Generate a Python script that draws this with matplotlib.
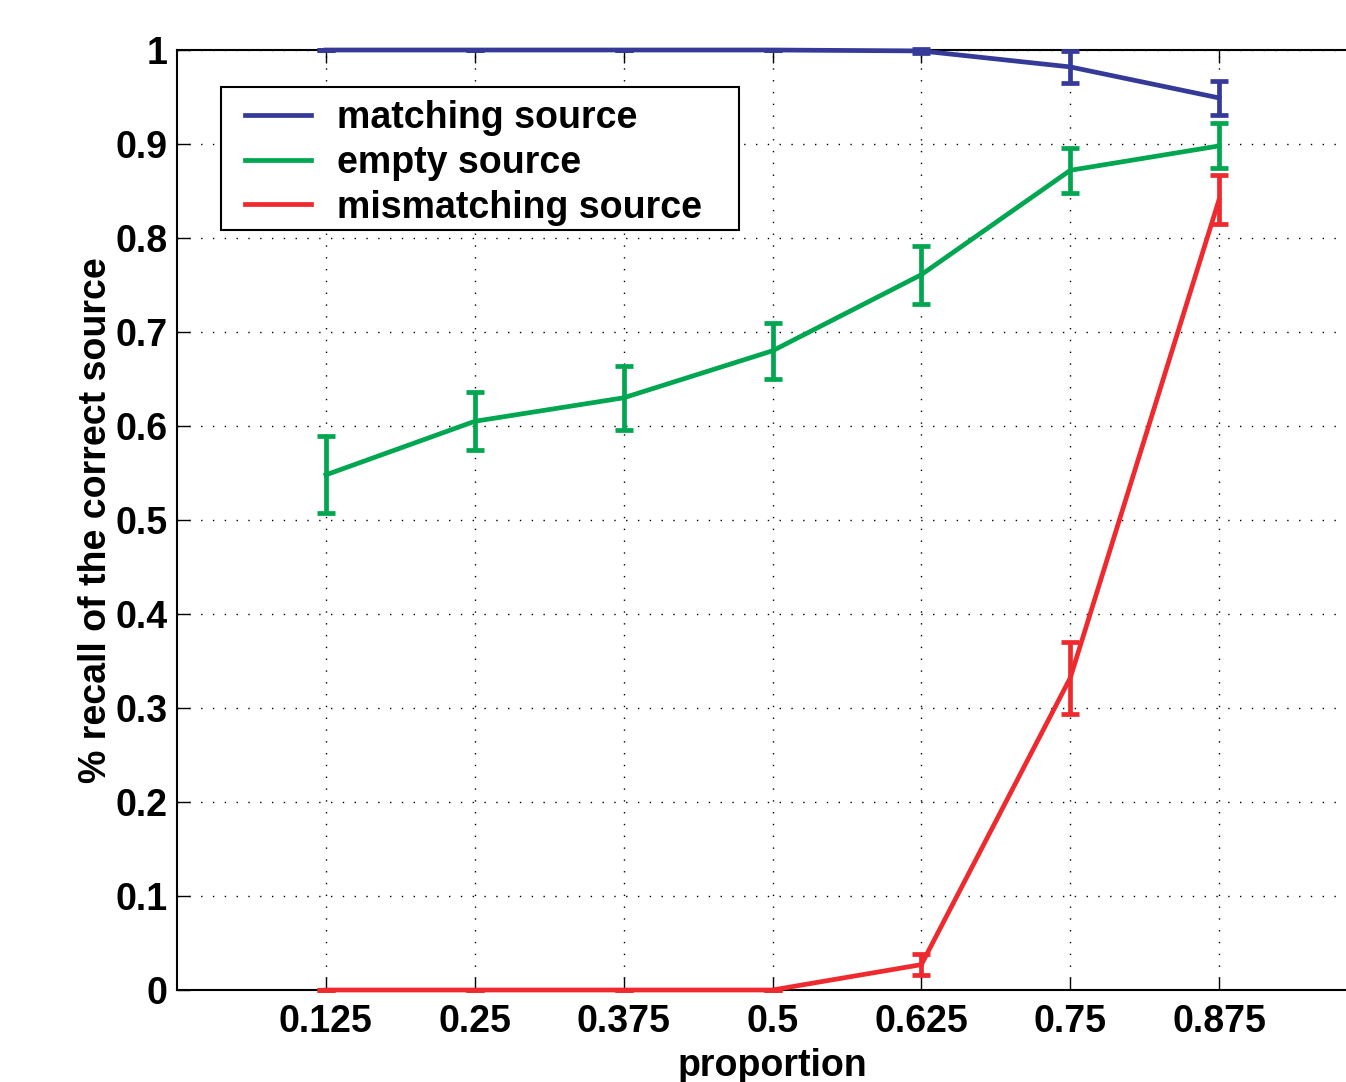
import matplotlib
matplotlib.use("Agg")
import matplotlib.pyplot as plt
from matplotlib.lines import Line2D
from matplotlib.patches import Rectangle
import numpy as np

proportion = [0.125, 0.25, 0.375, 0.5, 0.625, 0.75, 0.875]
matching = [1.0, 1.0, 1.0, 1.0, 0.999, 0.982, 0.949]
matching_err = [0.0, 0.0, 0.0, 0.0, 0.002, 0.017, 0.018]
empty = [0.548, 0.605, 0.630, 0.680, 0.761, 0.872, 0.898]
empty_err = [0.041, 0.031, 0.034, 0.030, 0.031, 0.024, 0.024]
mismatching = [0.0, 0.0, 0.0, 0.0, 0.027, 0.332, 0.841]
mismatching_err = [0.0, 0.0, 0.0, 0.0, 0.011, 0.038, 0.026]
xticks = [0.125, 0.25, 0.375, 0.5, 0.625, 0.75, 0.875]
xticklabels = ["0.125", "0.25", "0.375", "0.5", "0.625", "0.75", "0.875"]
yticks = [0, 0.1, 0.2, 0.3, 0.4, 0.5, 0.6, 0.7, 0.8, 0.9, 1]
yticklabels = ["0", "0.1", "0.2", "0.3", "0.4", "0.5", "0.6", "0.7", "0.8", "0.9", "1"]
series_names = ["matching source", "empty source", "mismatching source"]

plt.rcParams['font.family'] = ['Liberation Sans', 'DejaVu Sans']
plt.rcParams['font.weight'] = 'bold'

W, H = 1346, 1082
fig = plt.figure(figsize=(W / 100, H / 100), dpi=100)
ax = fig.add_axes([177 / W, (H - 990) / H, (1368 - 177) / W, 940 / H])

cols = ["#353a98", "#00a650", "#ee2a2f"]
kw = dict(lw=3.4, elinewidth=3.4, capsize=6.5, capthick=3.4, clip_on=False, zorder=3)
ax.errorbar(proportion, matching, yerr=matching_err, color=cols[0], **kw)
ax.errorbar(proportion, empty, yerr=empty_err, color=cols[1], **kw)
ax.errorbar(proportion, mismatching, yerr=mismatching_err, color=cols[2], **kw)

ax.set_xlim(0, 1)
ax.set_ylim(0, 1)
ax.set_xticks(xticks)
ax.set_xticklabels(xticklabels)
ax.set_yticks(yticks)
ax.set_yticklabels(yticklabels)
ax.tick_params(direction='in', length=9.4, width=1, labelsize=27, pad=7, top=True, right=False)
ax.tick_params(axis='x', pad=10)
for lab in ax.get_xticklabels() + ax.get_yticklabels():
    lab.set_fontweight('bold')
ax.grid(True, color='black', linestyle=(0, (1, 7.5)), linewidth=1)
for s in ax.spines.values():
    s.set_linewidth(1.5)
ax.spines['right'].set_visible(False)

ax.set_xlabel("proportion", fontsize=27, fontweight='bold', labelpad=6)
ax.set_ylabel("% recall of the correct source", fontsize=27, fontweight='bold', labelpad=0.5)

# legend frame (MATLAB-style box with extra right padding)
ax.add_patch(Rectangle((0.0369, 0.8085), 0.4719 - 0.0369, 0.9606 - 0.8085,
                       transform=ax.transAxes, facecolor='white', edgecolor='black',
                       lw=1.5, zorder=4))
handles = [Line2D([], [], color=c, lw=3.4) for c in cols]
leg = ax.legend(handles, series_names, loc='upper left', bbox_to_anchor=(0.0571, 0.9465), fontsize=27,
                frameon=False, handlelength=1.75,
                borderpad=0.0, labelspacing=0.23, handletextpad=0.7, borderaxespad=0)
leg.set_zorder(5)
for t in leg.get_texts():
    t.set_fontweight('bold')

fig.savefig("out.png", dpi=100)
